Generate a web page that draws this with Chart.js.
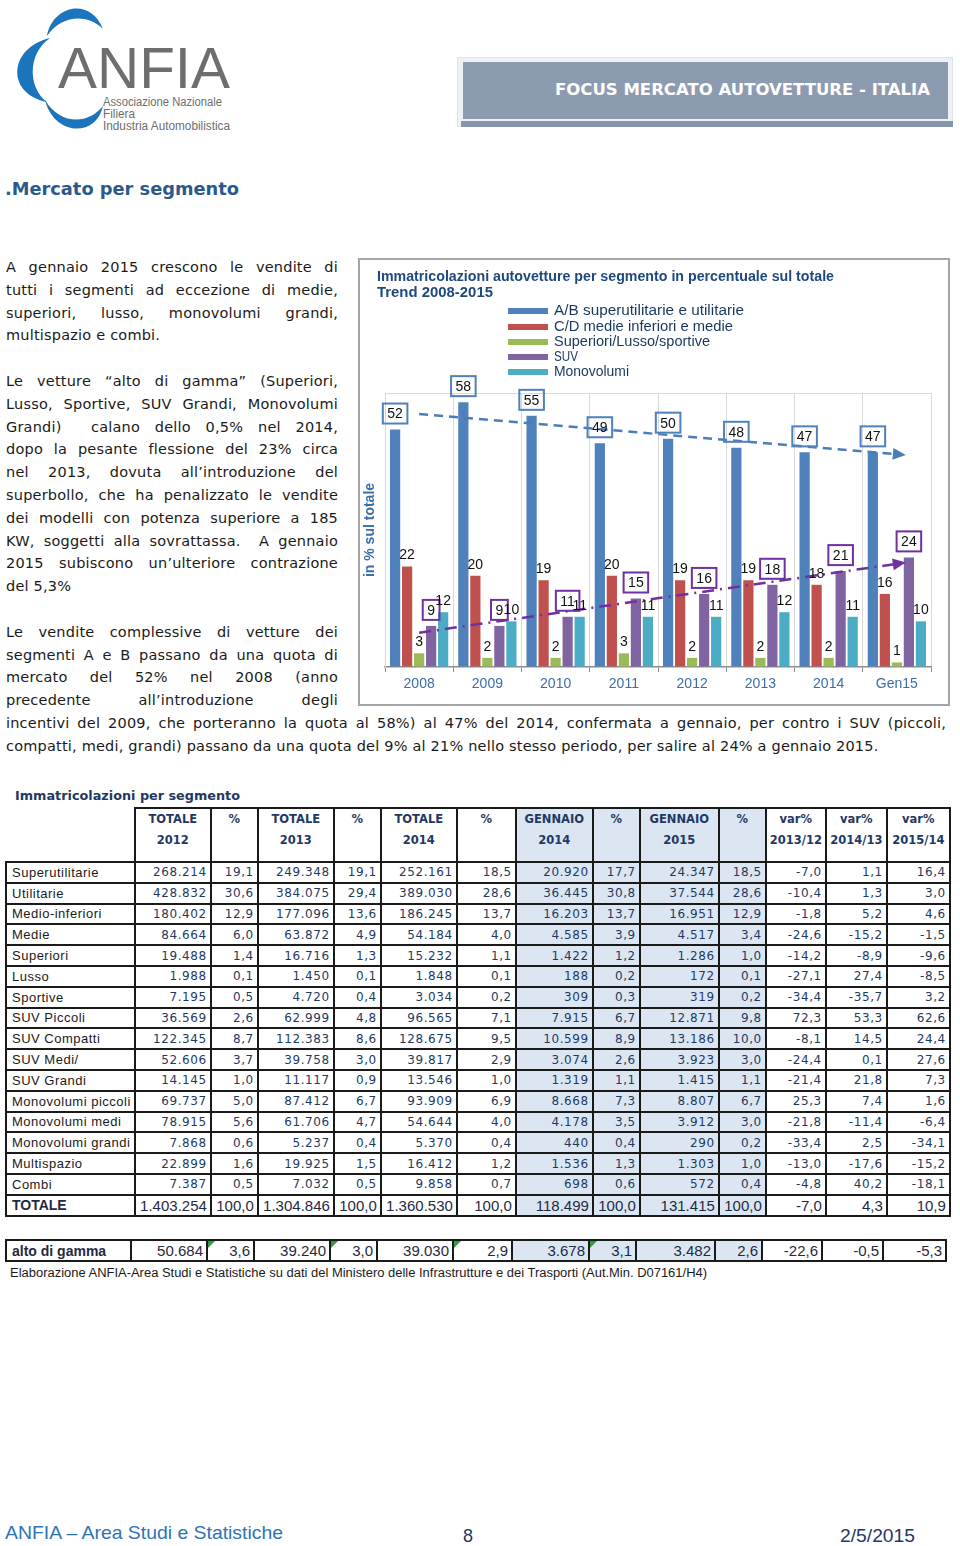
<!DOCTYPE html>
<html>
<head>
<meta charset="utf-8">
<script src="https://cdn.jsdelivr.net/npm/chart.js@4.4.1/dist/chart.umd.min.js"></script>
<style>
body{margin:0;background:#fff;}
#page{position:relative;width:960px;height:1546px;overflow:hidden;background:#fff;font-family:"DejaVu Sans",sans-serif;color:#1a1a1a;}
.abs{position:absolute;}
.fit{display:inline-block;white-space:nowrap;transform-origin:0 50%;}
#text{left:6px;top:256px;font-size:14.5px;line-height:22.8px;letter-spacing:0.2px;color:#1a1a1a;}
#text div{height:22.8px;}
#text .j{width:332px;text-align:justify;text-align-last:justify;}
#text .jw{width:940px;text-align:justify;text-align-last:justify;}
#chartBox{left:358px;top:258px;width:592px;height:448px;border:2px solid #a6a6a6;box-sizing:border-box;}
#chartBox canvas{position:absolute;left:0;top:0;}
.ctitle{font-family:"Liberation Sans",Arial,sans-serif;font-weight:bold;font-size:14px;color:#1f497d;line-height:16px;}
.leg{font-family:"Liberation Sans",Arial,sans-serif;font-size:14px;color:#17375e;line-height:15px;}
table.t{position:absolute;border-collapse:collapse;table-layout:fixed;}
table.t td{border:2px solid #1a1a1a;padding:0 3px 0 0;text-align:right;white-space:nowrap;overflow:hidden;
  font-family:"DejaVu Sans",sans-serif;font-size:12px;letter-spacing:0.6px;color:#1f3a5f;}
table.t td.lab{text-align:left;padding-left:5px;font-family:"Liberation Sans",Arial,sans-serif;font-size:13px;letter-spacing:0.5px;color:#1a1a1a;}
table.t td.sh{background:#dce6f2;}
table.t tr.hd td{vertical-align:top;text-align:center;padding:0;font-weight:bold;font-size:11.5px;letter-spacing:0;line-height:21px;color:#1f3864;}
table.t tr.hd td.blank{border-top:hidden;border-left:hidden;}
table.t tr.tot td{font-family:"Liberation Sans",Arial,sans-serif;font-size:15px;letter-spacing:0;color:#1f2a44;}
table.t tr.tot td.lab{font-weight:bold;font-size:14px;}
table.t td.tri{position:relative;}
table.t td.tri::before{content:"";position:absolute;left:0;top:0;border-top:7px solid #2e9e3e;border-right:7px solid transparent;}
</style>
</head>
<body>
<div id="page">

<!-- logo -->
<svg class="abs" style="left:0;top:0" width="245" height="136" viewBox="0 0 245 136">
  <path d="M47,36 C52,6 90,-4 103,29 C88,13 61,15 47,36 Z" fill="#1c75bc"/>
  <path d="M50,38 C8,48 6,94 47,102 C28,88 27,54 50,38 Z" fill="#1c75bc"/>
  <path d="M45,100 C54,136 96,138 103,106 C88,125 60,125 45,100 Z" fill="#1c75bc"/>
  <text x="58" y="88" font-family="Liberation Sans, Arial, sans-serif" font-size="58" fill="#6d6e70" textLength="172" lengthAdjust="spacingAndGlyphs">ANFIA</text>
  <text x="103" y="106" font-family="Liberation Sans, Arial, sans-serif" font-size="12" fill="#6d6e70" textLength="119" lengthAdjust="spacingAndGlyphs">Associazione Nazionale</text>
  <text x="103" y="118" font-family="Liberation Sans, Arial, sans-serif" font-size="12" fill="#6d6e70" textLength="32" lengthAdjust="spacingAndGlyphs">Filiera</text>
  <text x="103" y="130" font-family="Liberation Sans, Arial, sans-serif" font-size="12" fill="#6d6e70" textLength="127" lengthAdjust="spacingAndGlyphs">Industria Automobilistica</text>
</svg>

<!-- banner -->
<div class="abs" style="left:457px;top:57px;width:496px;height:70px;background:#eef1f5;border:1px solid #dfe4ea;box-sizing:border-box"></div>
<div class="abs" style="left:461px;top:121px;width:492px;height:6px;background:#8795aa"></div>
<div class="abs" style="left:463px;top:62px;width:485px;height:57px;background:#8d9bb0"></div>
<div class="abs" style="left:555px;top:79px;height:22px;line-height:22px;font-family:'DejaVu Sans',sans-serif;font-weight:bold;font-size:16px;color:#fff">
  <span class="fit" data-w="375">FOCUS MERCATO AUTOVETTURE - ITALIA</span></div>

<!-- section title -->
<div class="abs" style="left:5px;top:177px;line-height:24px;font-family:'DejaVu Sans',sans-serif;font-weight:bold;font-size:18px;color:#2a5a8c;text-decoration:underline;">
  <span class="fit" data-w="234">.Mercato per segmento</span></div>

<!-- body text -->
<div id="text" class="abs">
  <div class="j">A gennaio 2015 crescono le vendite di</div>
  <div class="j">tutti i segmenti ad eccezione di medie,</div>
  <div class="j">superiori, lusso, monovolumi grandi,</div>
  <div>multispazio e combi.</div>
  <div></div>
  <div class="j">Le vetture “alto di gamma” (Superiori,</div>
  <div class="j">Lusso, Sportive, SUV Grandi, Monovolumi</div>
  <div class="j">Grandi)&nbsp; calano dello 0,5% nel 2014,</div>
  <div class="j">dopo la pesante flessione del 23% circa</div>
  <div class="j">nel 2013, dovuta all’introduzione del</div>
  <div class="j">superbollo, che ha penalizzato le vendite</div>
  <div class="j">dei modelli con potenza superiore a 185</div>
  <div class="j">KW, soggetti alla sovrattassa.&nbsp; A gennaio</div>
  <div class="j">2015 subiscono un’ulteriore contrazione</div>
  <div>del 5,3%</div>
  <div></div>
  <div class="j">Le vendite complessive di vetture dei</div>
  <div class="j">segmenti A e B passano da una quota di</div>
  <div class="j">mercato del 52% nel 2008 (anno</div>
  <div class="j">precedente all’introduzione degli</div>
  <div class="jw">incentivi del 2009, che porteranno la quota al 58%) al 47% del 2014, confermata a gennaio, per contro i SUV (piccoli,</div>
  <div>compatti, medi, grandi) passano da una quota del 9% al 21% nello stesso periodo, per salire al 24% a gennaio 2015.</div>
</div>

<!-- chart -->
<div id="chartBox" class="abs">
  <canvas id="segChart" width="588" height="444"></canvas>
</div>
<div class="abs ctitle" style="left:377px;top:268px"><span class="fit" data-w="457">Immatricolazioni autovetture per segmento in percentuale sul totale</span></div>
<div class="abs ctitle" style="left:377px;top:284px"><span class="fit" data-w="116">Trend 2008-2015</span></div>
<div id="legend"></div>

<!-- table -->
<div class="abs" style="left:15px;top:786px;line-height:20px;font-family:'DejaVu Sans',sans-serif;font-weight:bold;font-size:13px;color:#1f3864">
  <span class="fit" data-w="225">Immatricolazioni per segmento</span></div>
<table id="segTable" class="t" style="left:5px;top:807px"></table>
<table id="altoTable" class="t" style="left:5px;top:1239px"></table>
<div class="abs" style="left:10px;top:1264px;line-height:18px;font-family:'Liberation Sans',Arial,sans-serif;font-size:12.5px;color:#1a1a1a">
  <span class="fit" data-w="697">Elaborazione ANFIA-Area Studi e Statistiche su dati del Ministero delle Infrastrutture e dei Trasporti (Aut.Min. D07161/H4)</span></div>

<!-- footer -->
<div class="abs" style="left:5px;top:1522px;line-height:22px;font-family:'Liberation Sans',Arial,sans-serif;font-size:19px;color:#2e74b5">
  <span class="fit" data-w="278">ANFIA – Area Studi e Statistiche</span></div>
<div class="abs" style="left:463px;top:1527px;line-height:18px;font-family:'Liberation Sans',Arial,sans-serif;font-size:18px;color:#1f3864">8</div>
<div class="abs" style="left:840px;top:1527px;line-height:18px;font-family:'Liberation Sans',Arial,sans-serif;font-size:18px;color:#1f3864">
  <span class="fit" data-w="75">2/5/2015</span></div>

</div>

<script>
// chart data (% sul totale)
const years = ["2008", "2009", "2010", "2011", "2012", "2013", "2014", "Gen15"];
const seriesNames = ["A/B superutilitarie e utilitarie", "C/D medie inferiori e medie", "Superiori/Lusso/sportive", "SUV", "Monovolumi"];
const seriesColors = ["#4f81bd", "#c0504d", "#9bbb59", "#8064a2", "#4bacc6"];
const abShare = [52, 58, 55, 49, 50, 48, 47, 47];
const cdShare = [22, 20, 19, 20, 19, 19, 18, 16];
const supShare = [3, 2, 2, 3, 2, 2, 2, 1];
const suvShare = [9, 9, 11, 15, 16, 18, 21, 24];
const monoShare = [12, 10, 11, 11, 11, 12, 11, 10];
const abTrend = [55.4, null, null, null, null, null, null, 46.6];
const suvTrend = [7.5, null, null, null, null, null, null, 22.6];

// table data
const rowLabels = ["Superutilitarie", "Utilitarie", "Medio-inferiori", "Medie", "Superiori", "Lusso", "Sportive", "SUV Piccoli", "SUV Compatti", "SUV Medi/", "SUV Grandi", "Monovolumi piccoli", "Monovolumi medi", "Monovolumi grandi", "Multispazio", "Combi"];
const tot2012 = ["268.214", "428.832", "180.402", "84.664", "19.488", "1.988", "7.195", "36.569", "122.345", "52.606", "14.145", "69.737", "78.915", "7.868", "22.899", "7.387"];
const pct2012 = ["19,1", "30,6", "12,9", "6,0", "1,4", "0,1", "0,5", "2,6", "8,7", "3,7", "1,0", "5,0", "5,6", "0,6", "1,6", "0,5"];
const tot2013 = ["249.348", "384.075", "177.096", "63.872", "16.716", "1.450", "4.720", "62.999", "112.383", "39.758", "11.117", "87.412", "61.706", "5.237", "19.925", "7.032"];
const pct2013 = ["19,1", "29,4", "13,6", "4,9", "1,3", "0,1", "0,4", "4,8", "8,6", "3,0", "0,9", "6,7", "4,7", "0,4", "1,5", "0,5"];
const tot2014 = ["252.161", "389.030", "186.245", "54.184", "15.232", "1.848", "3.034", "96.565", "128.675", "39.817", "13.546", "93.909", "54.644", "5.370", "16.412", "9.858"];
const pct2014 = ["18,5", "28,6", "13,7", "4,0", "1,1", "0,1", "0,2", "7,1", "9,5", "2,9", "1,0", "6,9", "4,0", "0,4", "1,2", "0,7"];
const gen2014 = ["20.920", "36.445", "16.203", "4.585", "1.422", "188", "309", "7.915", "10.599", "3.074", "1.319", "8.668", "4.178", "440", "1.536", "698"];
const pctGen2014 = ["17,7", "30,8", "13,7", "3,9", "1,2", "0,2", "0,3", "6,7", "8,9", "2,6", "1,1", "7,3", "3,5", "0,4", "1,3", "0,6"];
const gen2015 = ["24.347", "37.544", "16.951", "4.517", "1.286", "172", "319", "12.871", "13.186", "3.923", "1.415", "8.807", "3.912", "290", "1.303", "572"];
const pctGen2015 = ["18,5", "28,6", "12,9", "3,4", "1,0", "0,1", "0,2", "9,8", "10,0", "3,0", "1,1", "6,7", "3,0", "0,2", "1,0", "0,4"];
const var1312 = ["-7,0", "-10,4", "-1,8", "-24,6", "-14,2", "-27,1", "-34,4", "72,3", "-8,1", "-24,4", "-21,4", "25,3", "-21,8", "-33,4", "-13,0", "-4,8"];
const var1413 = ["1,1", "1,3", "5,2", "-15,2", "-8,9", "27,4", "-35,7", "53,3", "14,5", "0,1", "21,8", "7,4", "-11,4", "2,5", "-17,6", "40,2"];
const var1514 = ["16,4", "3,0", "4,6", "-1,5", "-9,6", "-8,5", "3,2", "62,6", "24,4", "27,6", "7,3", "1,6", "-6,4", "-34,1", "-15,2", "-18,1"];
const totalRow = ["1.403.254", "100,0", "1.304.846", "100,0", "1.360.530", "100,0", "118.499", "100,0", "131.415", "100,0", "-7,0", "4,3", "10,9"];
const altoRow = ["50.684", "3,6", "39.240", "3,0", "39.030", "2,9", "3.678", "3,1", "3.482", "2,6", "-22,6", "-0,5", "-5,3"];
const headLabels = [["TOTALE", "2012"], ["%", ""], ["TOTALE", "2013"], ["%", ""], ["TOTALE", "2014"], ["%", ""],
    ["GENNAIO", "2014"], ["%", ""], ["GENNAIO", "2015"], ["%", ""], ["var%", "2013/12"], ["var%", "2014/13"], ["var%", "2015/14"]];

const colWidths = [125, 76, 47, 76, 47, 76, 59, 77, 47, 79, 47, 60, 61, 63];
const shaded = [7, 8, 9, 10];

function colgroup() {
    return "<colgroup>" + colWidths.map(w => '<col style="width:' + w + 'px">').join("") + "</colgroup>";
}
function cellClass(i) {
    return shaded.includes(i) ? ' class="sh"' : "";
}

// main table
let html = colgroup();
html += '<tr class="hd" style="height:54px"><td class="blank"></td>';
headLabels.forEach((h, i) => {
    html += "<td" + cellClass(i + 1) + ">" + h[0] + "<br>" + h[1] + "</td>";
});
html += "</tr>";
const cols = [tot2012, pct2012, tot2013, pct2013, tot2014, pct2014, gen2014, pctGen2014, gen2015, pctGen2015, var1312, var1413, var1514];
rowLabels.forEach((lab, r) => {
    html += '<tr style="height:20.8px"><td class="lab">' + lab + "</td>";
    cols.forEach((c, i) => { html += "<td" + cellClass(i + 1) + ">" + c[r] + "</td>"; });
    html += "</tr>";
});
html += '<tr class="tot" style="height:21px"><td class="lab">TOTALE</td>';
totalRow.forEach((v, i) => { html += "<td" + cellClass(i + 1) + ">" + v + "</td>"; });
html += "</tr>";
document.getElementById("segTable").innerHTML = html;

let alto = colgroup() + '<tr class="tot" style="height:21px"><td class="lab">alto di gamma</td>';
altoRow.forEach((v, i) => {
    const cls = [];
    if (shaded.includes(i + 1)) cls.push("sh");
    if ([2, 4, 6, 8].includes(i + 1)) cls.push("tri");
    alto += '<td class="' + cls.join(" ") + '">' + v + "</td>";
});
alto += "</tr>";
document.getElementById("altoTable").innerHTML = alto;

// legend built from the series
const legendTop = [311, 327, 342, 357, 372];
const legendW = [190, 179, 156, 24, 75];
let leg = "";
seriesNames.forEach((name, i) => {
    leg += '<div class="abs" style="left:508px;top:' + (legendTop[i] - 3) + 'px;width:40px;height:6px;background:' + seriesColors[i] + '"></div>';
    leg += '<div class="abs leg" style="left:554px;top:' + (legendTop[i] - 8) + 'px"><span class="fit" data-w="' + legendW[i] + '">' + name + "</span></div>";
});
document.getElementById("legend").innerHTML = leg;

// squeeze/stretch text spans to the widths of the original layout
document.querySelectorAll(".fit").forEach(el => {
    const w = el.getBoundingClientRect().width;
    if (w > 0) el.style.transform = "scaleX(" + (el.dataset.w / w) + ")";
});

Chart.defaults.font.family = '"Liberation Sans", Arial, sans-serif';

const valueLabels = {
    id: "valueLabels",
    afterDatasetsDraw(chart) {
        const ctx = chart.ctx;
        ctx.save();
        ctx.font = '14px "Liberation Sans", Arial, sans-serif';
        ctx.textAlign = "center";
        chart.data.datasets.forEach((ds, i) => {
            if (ds.type === "line") return;
            chart.getDatasetMeta(i).data.forEach((bar, j) => {
                const txt = String(ds.data[j]);
                if (ds.boxColor) {
                    const w = ctx.measureText(txt).width + 9;
                    const h = 20;
                    const bottom = bar.y - 6;
                    ctx.strokeStyle = ds.boxColor;
                    ctx.lineWidth = 2;
                    ctx.strokeRect(bar.x - w / 2, bottom - h, w, h);
                    ctx.fillStyle = "#111";
                    ctx.textBaseline = "middle";
                    ctx.fillText(txt, bar.x, bottom - h / 2 + 1);
                } else {
                    ctx.fillStyle = "#111";
                    ctx.textBaseline = "bottom";
                    ctx.fillText(txt, bar.x, bar.y - 4);
                }
            });
        });
        ctx.restore();
    },
};

const trendArrows = {
    id: "trendArrows",
    afterDatasetsDraw(chart) {
        const ctx = chart.ctx;
        chart.data.datasets.forEach((ds, i) => {
            if (ds.type !== "line") return;
            const pts = chart.getDatasetMeta(i).data.filter((p, k) => ds.data[k] !== null);
            const a = pts[pts.length - 2], b = pts[pts.length - 1];
            const ang = Math.atan2(b.y - a.y, b.x - a.x);
            ctx.save();
            ctx.fillStyle = ds.borderColor;
            ctx.translate(b.x + 4 * Math.cos(ang), b.y + 4 * Math.sin(ang));
            ctx.rotate(ang);
            ctx.beginPath();
            ctx.moveTo(5, 0);
            ctx.lineTo(-8, -6);
            ctx.lineTo(-8, 6);
            ctx.closePath();
            ctx.fill();
            ctx.restore();
        });
    },
};

const barSets = [abShare, cdShare, supShare, suvShare, monoShare].map((d, i) => ({
    label: seriesNames[i],
    data: d,
    backgroundColor: seriesColors[i],
    order: 2,
}));
barSets[0].boxColor = "#4f81bd";
barSets[3].boxColor = "#7030a0";

new Chart(document.getElementById("segChart").getContext("2d"), {
    type: "bar",
    data: {
        labels: years,
        datasets: [
            ...barSets,
            {type: "line", label: "trend A/B", data: abTrend, borderColor: "#4a7ebb", borderWidth: 2.5,
                borderDash: [9, 6], pointRadius: 0, spanGaps: true, order: 0},
            {type: "line", label: "trend SUV", data: suvTrend, borderColor: "#7030a0", borderWidth: 2.5,
                borderDash: [12, 6, 2, 6], pointRadius: 0, spanGaps: true, order: 0},
        ],
    },
    options: {
        responsive: false,
        animation: false,
        layout: {padding: {top: 133, right: 17, left: 0, bottom: 0}},
        datasets: {bar: {categoryPercentage: 0.88, barPercentage: 0.85}},
        plugins: {legend: {display: false}, tooltip: {enabled: false}},
        scales: {
            x: {
                afterFit: s => { s.height = 37; },
                grid: {offset: true, color: "#d9d9d9", tickLength: 5, tickColor: "#8c8c8c"},
                border: {color: "#8c8c8c", width: 1.5},
                ticks: {color: "#3d6ea8", padding: 4, font: {size: 14}},
            },
            y: {
                min: 0,
                max: 60,
                afterFit: s => { s.width = 25; },
                ticks: {display: false, stepSize: 10},
                grid: {drawTicks: false, color: c => (c.tick && c.tick.value === 60 ? "#d9d9d9" : "rgba(0,0,0,0)")},
                border: {color: "#d9d9d9"},
                title: {display: true, text: "in % sul totale", color: "#3a6ea5", padding: {top: 2, bottom: 0},
                    font: {size: 14, weight: "bold"}},
            },
        },
    },
    plugins: [trendArrows, valueLabels],
});
</script>
</body>
</html>
